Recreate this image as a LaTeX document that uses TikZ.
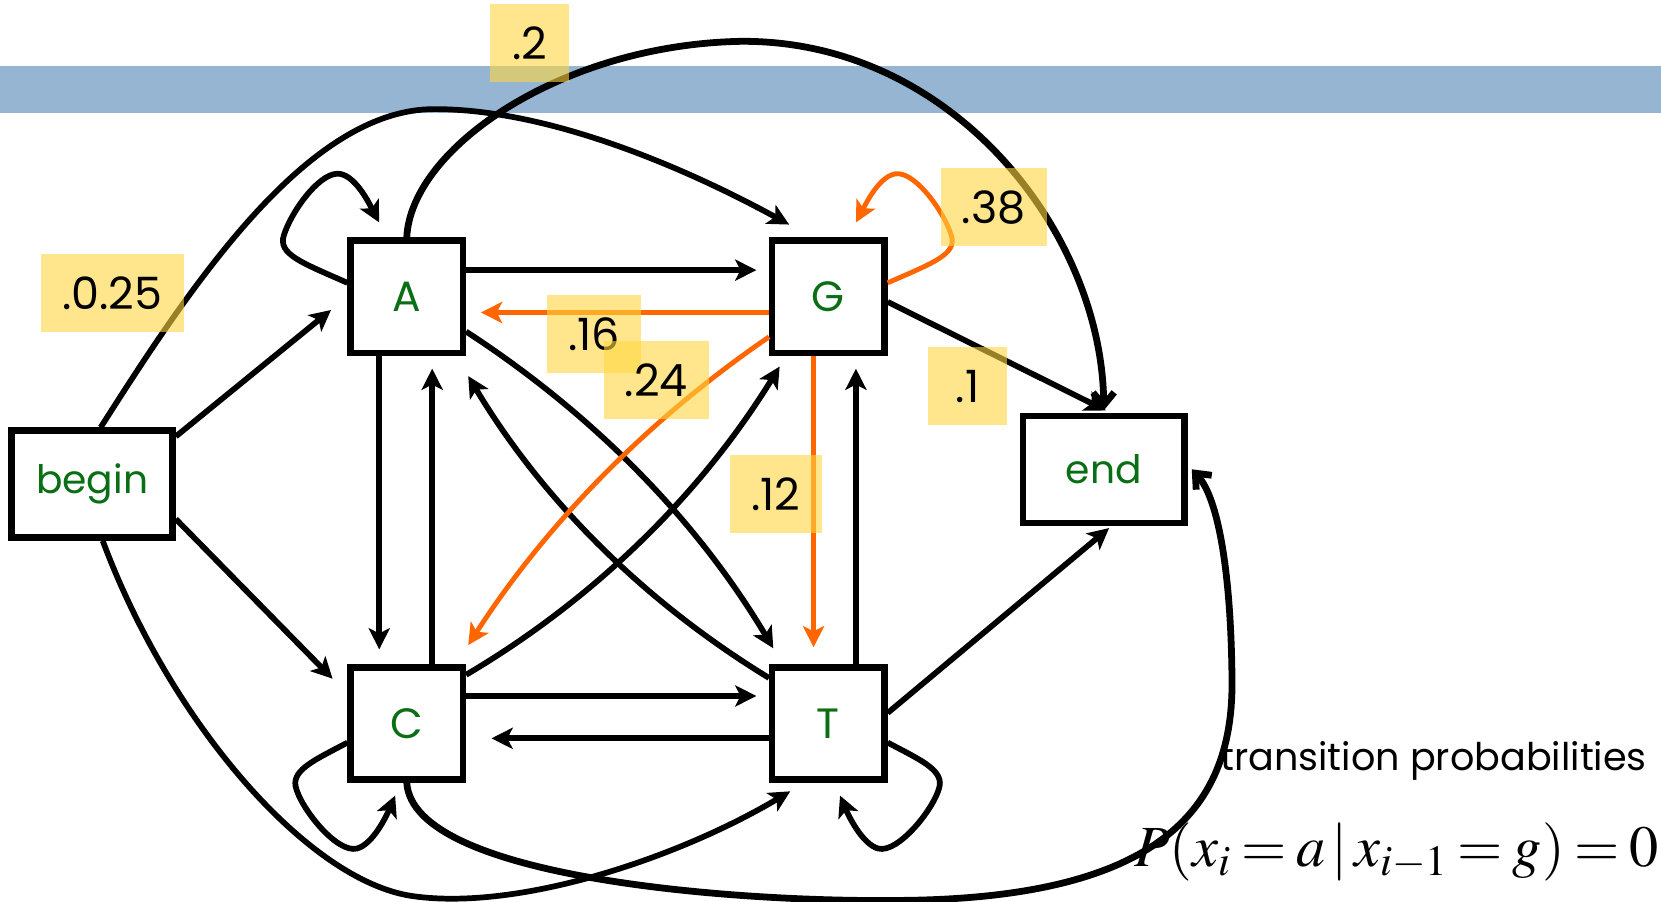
\documentclass[tikz,border=0pt]{standalone}
\usepackage{mathptmx}
\usepackage[no-math]{fontspec}
\setmainfont{Poppins}
\usetikzlibrary{arrows.meta,calc}
\definecolor{bandblue}{RGB}{149,181,211}
\definecolor{hiyellow}{RGB}{255,214,64}
\definecolor{stategreen}{RGB}{10,110,20}
\definecolor{hotorange}{RGB}{255,102,0}
\begin{document}
\begin{tikzpicture}[x=0.5pt,y=-0.5pt,
    base/.style={draw,line width=3pt,fill=white,inner sep=0pt,
        minimum width=53pt,minimum height=53pt,text=stategreen,
        font=\fontsize{20}{22}\selectfont},
    terminal/.style={base,minimum width=76pt,minimum height=50.5pt,
        font=\fontsize{18.5}{20}\selectfont},
    prob/.style={fill=hiyellow,fill opacity=0.6,text opacity=1,inner xsep=10pt,
        minimum width=37pt,minimum height=37pt,font=\fontsize{21}{24}\selectfont},
    flow/.style={-{Stealth[length=10pt,width=10pt,inset=2.5pt]},line width=2.7pt,shorten >=6pt},
    hot/.style={flow,draw=hotorange,line width=2.3pt},
    wide/.style={-{Straight Barb[length=6pt,width=10pt]},line width=3.2pt}
]
    \useasboundingbox (0,0) rectangle (1568,851);
    \fill[bandblue] (0,62) rectangle (1568,107);

    \node[base] (A) at (384,280) {A};
    \node[base] (G) at (782,280) {G};
    \node[base] (C) at (384,683) {C};
    \node[base] (T) at (782,683) {T};
    \node[terminal] (begin) at (87,457) {begin};
    \node[terminal] (end) at (1042,443) {end};

    \draw[flow] ($(A.east)+(0,-25)$) -- ($(G.west)+(0,-25)$);
    \draw[hot,shorten >=7pt] ($(G.west)+(0,15)$) -- ($(A.east)+(0,15)$);
    \draw[flow,shorten >=7pt] ($(A.south)+(-26,0)$) -- ($(C.north)+(-26,0)$);
    \draw[flow] ($(C.north)+(24,0)$) -- ($(A.south)+(24,0)$);
    \draw[hot,shorten >=8pt] ($(G.south)+(-14,0)$) -- ($(T.north)+(-14,0)$);
    \draw[flow] ($(T.north)+(26,0)$) -- ($(G.south)+(26,0)$);
    \draw[flow] ($(C.east)+(0,-26)$) -- ($(T.west)+(0,-26)$);
    \draw[flow,shorten >=12pt] ($(T.west)+(0,14)$) -- ($(C.east)+(0,14)$);
    \draw[flow,shorten >=10pt] ($(begin.east)+(0,-45)$) -- (A.west);
    \draw[flow,shorten >=10pt] ($(begin.east)+(0,33)$) -- ($(C.west)+(0,-28)$);
    \draw[flow,shorten >=0pt] ($(G.east)+(0,5)$) -- ($(end.north)+(2,-2)$);
    \draw[flow,shorten >=0pt] ($(T.east)+(0,-10)$) -- ($(end.south)+(5,2)$);

    \draw[flow,shorten >=0pt] ($(A.east)+(0,33)$) .. controls (560,391) and (658,491) .. ($(T.north west)+(4,-15)$);
    \draw[flow,shorten >=0pt] ($(T.west)+(0,-43)$) .. controls (608,568) and (512,472) .. ($(A.south east)+(2,19)$);
    \draw[flow,shorten >=0pt] ($(C.north east)+(0,10)$) .. controls (562,565) and (662,466) .. ($(G.south west)+(10,10)$);
    \draw[hot,shorten >=0pt] ($(G.west)+(0,38)$) .. controls (612,396) and (516,494) .. ($(C.north east)+(2,-18)$);

    \draw[flow,shorten >=0pt] ($(A.west)+(0,-13)$) .. controls (285,248) and (262,240) .. (268,222)
        .. controls (275,200) and (300,165) .. (318,164) .. controls (335,163) and (350,195) .. ($(A.north)+(-26,-14)$);
    \draw[hot,shorten >=0pt] ($(G.east)+(0,-13)$) .. controls (881,248) and (904,240) .. (898,222)
        .. controls (891,200) and (866,165) .. (848,164) .. controls (831,163) and (816,195) .. ($(G.north)+(26,-14)$);
    \draw[flow,shorten >=0pt] ($(C.west)+(0,18)$) .. controls (300,716) and (276,726) .. (279,742)
        .. controls (283,762) and (318,806) .. (337,801) .. controls (352,797) and (365,770) .. ($(C.south)+(-11,12)$);
    \draw[flow,shorten >=0pt] ($(T.east)+(0,18)$) .. controls (866,716) and (890,726) .. (887,742)
        .. controls (883,762) and (848,806) .. (829,801) .. controls (814,797) and (801,770) .. ($(T.south)+(11,12)$);

    \draw[flow,shorten >=0pt] ($(begin.north)+(8,0)$) .. controls (180,270) and (290,103) .. (410,103)
        .. controls (520,103) and (650,160) .. ($(G.north west)+(19,-12)$);
    \draw[flow,shorten >=0pt] ($(begin.south)+(10,0)$) .. controls (160,680) and (290,832) .. (390,846)
        .. controls (490,860) and (640,810) .. ($(T.south west)+(20,8)$);
    \draw[wide] (A.north) .. controls (388,140) and (530,42) .. (700,39)
        .. controls (900,38) and (1040,220) .. ($(end.north)+(0,-2)$);
    \draw[wide] (C.south) .. controls (390,830) and (700,852) .. (850,850)
        .. controls (1100,848) and (1165,760) .. (1163,640)
        .. controls (1162,540) and (1150,470) .. ($(end.east)+(4,0)$);

    \node[prob] (pAE) at (500,40.5) {.2};
    \node[prob] (pBA) at (106,276.5) {.0.25};
    \node[prob] (pGG) at (938,195.5) {.38};
    \node[prob] (pGA) at (561,315.5) {.16};
    \node[prob] (pGC) at (619.5,358.5) {.24};
    \node[prob] (pGE) at (913.5,364.5) {.1};
    \node[prob] (pGT) at (732.5,466.5) {.12};

    \node[anchor=base east,inner sep=0pt,font=\fontsize{18}{20}\selectfont] (caption) at (1555,727)
        {transition probabilities};
    \node[anchor=base east,inner sep=0pt,font=\fontsize{27.5}{32}\selectfont] (rule) at (1566,818)
        {\thickmuskip=3mu$P(x_i=a\,|\,x_{i-1}=g)=0$};
\end{tikzpicture}
\end{document}
